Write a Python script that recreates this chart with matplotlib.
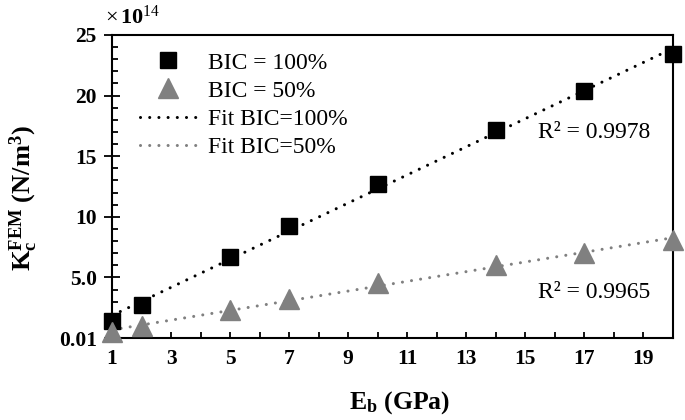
import numpy as np
import matplotlib
matplotlib.use("Agg")
import matplotlib.pyplot as plt
from matplotlib.ticker import MultipleLocator, FixedLocator

plt.rcParams['font.family'] = ['Liberation Serif', 'DejaVu Serif']
plt.rcParams['mathtext.fontset'] = 'custom'
plt.rcParams['mathtext.rm'] = 'Liberation Serif'
plt.rcParams['mathtext.it'] = 'Liberation Serif:italic'
plt.rcParams['mathtext.bf'] = 'Liberation Serif:bold'

# Data (units of 1e14 N/m^3)
eb = [1, 2, 5, 7, 10, 14, 17, 20]
bic100 = [1.4, 2.75, 6.7, 9.2, 12.7, 17.2, 20.4, 23.4]
bic50 = [0.5, 0.95, 2.35, 3.2, 4.5, 6.0, 7.0, 8.1]
xticks = [1, 3, 5, 7, 9, 11, 13, 15, 17, 19]
yticks = [0, 5, 10, 15, 20, 25]
ytick_labels = ["0.01", "5.0", "10", "15", "20", "25"]
r2_100 = "R² = 0.9978"
r2_50 = "R² = 0.9965"

W, H = 685, 420
fig = plt.figure(figsize=(W / 100, H / 100), dpi=100)
ax = fig.add_axes([112 / W, 1 - 338 / H, (673 - 112) / W, (338 - 35) / H])

gray = '#808080'
x = np.array(eb, dtype=float)
p100 = np.polyfit(x, bic100, 1)
p50 = np.polyfit(x, bic50, 1)
xf = np.array([x.min(), x.max()])

dot = (0, (0.01, 3.0))
ax.plot(xf, np.polyval(p100, xf), color='black', lw=2.2, linestyle=dot,
        dash_capstyle='round', label='Fit BIC=100%', zorder=2)
ax.plot(xf, np.polyval(p50, xf), color=gray, lw=2.2, linestyle=dot,
        dash_capstyle='round', label='Fit BIC=50%', zorder=2)
ax.plot(eb, bic100, 's', color='black', ms=12, label='BIC = 100%', zorder=3, clip_on=False)
ax.plot(eb, bic50, '^', color=gray, ms=14.5, label='BIC = 50%', zorder=3, clip_on=False)

ax.set_xlim(1, 20)
ax.set_ylim(0, 25)
ax.xaxis.set_major_locator(FixedLocator(xticks))
ax.xaxis.set_minor_locator(MultipleLocator(1))
ax.yaxis.set_major_locator(FixedLocator(yticks))
ax.set_yticklabels(ytick_labels)
ax.yaxis.set_minor_locator(MultipleLocator(1))

for lab in ax.get_xticklabels() + ax.get_yticklabels():
    lab.set_fontweight('bold')
    lab.set_fontsize(15.5)

ax.tick_params(axis='x', which='both', direction='in', length=4, width=1.3, pad=8)
ax.tick_params(axis='y', which='major', direction='inout', length=12, width=1.3, pad=5)
ax.tick_params(axis='y', which='minor', direction='in', length=4, width=1.3)
for s in ax.spines.values():
    s.set_linewidth(1.5)

ax.set_xlabel(r'$\mathbf{E_b}$ (GPa)', fontsize=18.5, fontweight='bold')
ax.xaxis.set_label_coords(0.513, -0.168)
ax.set_ylabel(r'$\mathbf{K_c^{FEM}}$ (N/m$^\mathbf{3}$)', fontsize=19, fontweight='bold')
ax.yaxis.set_label_coords(-0.128, 0.46)

ax.text(-0.012, 1.02, r'$\times\,\mathbf{10}^{\mathrm{14}}$', transform=ax.transAxes,
        fontsize=16, ha='left', va='bottom')

def px2axes(px, py):
    return ((px - 112) / (673 - 112), (338 - py) / (338 - 35))

ax.text(*px2axes(538, 133), r2_100, transform=ax.transAxes, fontsize=17, va='center', ha='left')
ax.text(*px2axes(538, 292), r2_50, transform=ax.transAxes, fontsize=17, va='center', ha='left')

h, l = ax.get_legend_handles_labels()
order = [2, 3, 0, 1]
leg = ax.legend([h[i] for i in order], [l[i] for i in order], loc='upper left',
                bbox_to_anchor=px2axes(140, 52), frameon=False, fontsize=17,
                borderpad=0, borderaxespad=0,
                handlelength=2.4, handletextpad=0.5, labelspacing=0.28, numpoints=1)

fig.savefig('out.png', dpi=100)
